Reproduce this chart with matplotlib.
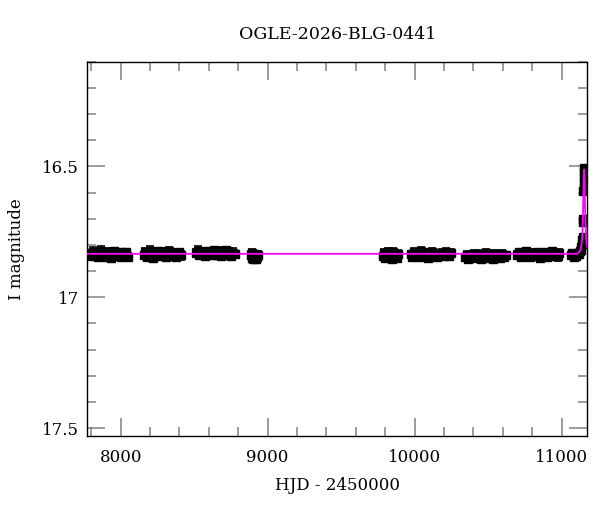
"""
OGLE light curve: OGLE-2026-BLG-0441
"""
import matplotlib
matplotlib.use('Agg')
import matplotlib.pyplot as plt
from matplotlib.ticker import MultipleLocator, FixedLocator, FuncFormatter

# observing seasons (HJD - 2450000, I mag, error)
t1 = [7786, 7797, 7809, 7820, 7832, 7843, 7855, 7866, 7878, 7889, 7901, 7912,
      7924, 7935, 7947, 7958, 7970, 7981, 7993, 8004, 8016, 8027, 8039, 8052]
m1 = [16.832, 16.844, 16.826, 16.839, 16.829, 16.848, 16.835, 16.823, 16.841, 16.830, 16.846, 16.827,
      16.838, 16.850, 16.831, 16.825, 16.843, 16.836, 16.828, 16.847, 16.833, 16.840, 16.826, 16.845]
e1 = [0.014, 0.012, 0.020, 0.011, 0.013, 0.015, 0.012, 0.018, 0.011, 0.014, 0.013, 0.016,
      0.012, 0.011, 0.019, 0.013, 0.012, 0.015, 0.014, 0.011, 0.013, 0.017, 0.012, 0.014]

t2 = [8156, 8167, 8178, 8189, 8200, 8211, 8222, 8233, 8244, 8255, 8266, 8277,
      8288, 8299, 8310, 8321, 8332, 8343, 8354, 8365, 8376, 8387, 8398, 8410]
m2 = [16.838, 16.827, 16.846, 16.833, 16.822, 16.841, 16.849, 16.830, 16.836, 16.825, 16.844, 16.832,
      16.839, 16.827, 16.847, 16.834, 16.823, 16.842, 16.829, 16.837, 16.848, 16.831, 16.826, 16.840]
e2 = [0.012, 0.015, 0.011, 0.013, 0.018, 0.012, 0.014, 0.011, 0.016, 0.013, 0.012, 0.019,
      0.011, 0.014, 0.012, 0.013, 0.017, 0.011, 0.015, 0.012, 0.014, 0.013, 0.011, 0.016]

t3 = [8512, 8524, 8536, 8548, 8560, 8572, 8584, 8596, 8608, 8620, 8632, 8644,
      8656, 8668, 8680, 8692, 8704, 8716, 8728, 8740, 8752, 8764, 8776]
m3 = [16.830, 16.822, 16.838, 16.826, 16.833, 16.843, 16.824, 16.835, 16.828, 16.840, 16.821, 16.832,
      16.837, 16.825, 16.844, 16.829, 16.834, 16.820, 16.839, 16.827, 16.842, 16.831, 16.836]
e3 = [0.013, 0.019, 0.011, 0.014, 0.012, 0.016, 0.011, 0.013, 0.015, 0.012, 0.014, 0.011,
      0.013, 0.017, 0.012, 0.011, 0.014, 0.013, 0.012, 0.015, 0.011, 0.018, 0.013]

t4 = [8884, 8890, 8896, 8902, 8908, 8914, 8920, 8926, 8931]
m4 = [16.838, 16.850, 16.832, 16.855, 16.842, 16.836, 16.852, 16.845, 16.840]
e4 = [0.014, 0.012, 0.016, 0.013, 0.015, 0.012, 0.014, 0.013, 0.015]

t5 = [9783, 9792, 9801, 9810, 9819, 9828, 9837, 9846, 9855, 9864, 9873, 9882, 9889]
m5 = [16.842, 16.830, 16.851, 16.837, 16.826, 16.848, 16.834, 16.855, 16.828, 16.845, 16.839, 16.850, 16.833]
e5 = [0.013, 0.015, 0.012, 0.014, 0.016, 0.012, 0.013, 0.011, 0.015, 0.013, 0.012, 0.014, 0.013]

t6 = [9972, 9984, 9996, 10008, 10020, 10032, 10044, 10056, 10068, 10080, 10092, 10104,
      10116, 10128, 10140, 10152, 10164, 10176, 10188, 10200, 10212, 10224, 10236, 10250]
m6 = [16.836, 16.845, 16.828, 16.840, 16.832, 16.848, 16.825, 16.838, 16.843, 16.830, 16.849, 16.834,
      16.827, 16.841, 16.836, 16.846, 16.829, 16.839, 16.833, 16.844, 16.826, 16.837, 16.842, 16.831]
e6 = [0.012, 0.011, 0.017, 0.013, 0.012, 0.014, 0.018, 0.011, 0.013, 0.015, 0.012, 0.011,
      0.016, 0.013, 0.012, 0.014, 0.011, 0.013, 0.019, 0.012, 0.014, 0.011, 0.013, 0.016]

t7 = [10342, 10354, 10366, 10378, 10390, 10402, 10414, 10426, 10438, 10450, 10462, 10474,
      10486, 10498, 10510, 10522, 10534, 10546, 10558, 10570, 10582, 10594, 10606, 10620]
m7 = [16.845, 16.838, 16.852, 16.840, 16.847, 16.834, 16.850, 16.843, 16.837, 16.855, 16.841, 16.846,
      16.832, 16.849, 16.844, 16.839, 16.853, 16.836, 16.848, 16.842, 16.851, 16.835, 16.846, 16.840]
e7 = [0.011, 0.013, 0.012, 0.016, 0.011, 0.014, 0.012, 0.011, 0.017, 0.012, 0.013, 0.011,
      0.015, 0.012, 0.011, 0.014, 0.012, 0.018, 0.011, 0.013, 0.012, 0.015, 0.011, 0.013]

t8 = [10697, 10709, 10721, 10733, 10745, 10757, 10769, 10781, 10793, 10805, 10817, 10829,
      10841, 10853, 10865, 10877, 10889, 10901, 10913, 10925, 10937, 10949, 10961, 10973, 10985]
m8 = [16.838, 16.827, 16.845, 16.833, 16.841, 16.824, 16.836, 16.848, 16.830, 16.839, 16.843, 16.826,
      16.835, 16.849, 16.831, 16.840, 16.828, 16.846, 16.834, 16.837, 16.825, 16.844, 16.832, 16.841, 16.829]
e8 = [0.016, 0.012, 0.013, 0.011, 0.018, 0.012, 0.014, 0.011, 0.013, 0.016, 0.012, 0.011,
      0.014, 0.012, 0.017, 0.011, 0.013, 0.012, 0.015, 0.011, 0.014, 0.012, 0.013, 0.019, 0.012]

# 2026 season with the event
t9 = [11063, 11072, 11081, 11090, 11099, 11108, 11116, 11123, 11129, 11134, 11138,
      11141, 11144, 11146, 11147, 11148, 11149, 11150, 11151, 11152, 11153]
m9 = [16.840, 16.832, 16.845, 16.836, 16.842, 16.830, 16.834, 16.825, 16.818, 16.808, 16.795,
      16.782, 16.770, 16.712, 16.700, 16.595, 16.582, 16.560, 16.540, 16.520, 16.505]
e9 = [0.013, 0.012, 0.014, 0.012, 0.013, 0.011, 0.013, 0.012, 0.011, 0.012, 0.011,
      0.012, 0.011, 0.010, 0.010, 0.010, 0.010, 0.010, 0.010, 0.011, 0.012]

# model curve
model_t = [7700, 11100, 11115, 11125, 11132, 11138, 11142, 11145, 11148, 11150,
           11152, 11155, 11158, 11162, 11166, 11170, 11180]
model_m = [16.834, 16.834, 16.830, 16.822, 16.808, 16.780, 16.740, 16.680, 16.590, 16.530,
           16.512, 16.550, 16.640, 16.720, 16.770, 16.800, 16.820]

seasons = [(t1, m1, e1), (t2, m2, e2), (t3, m3, e3), (t4, m4, e4), (t5, m5, e5),
           (t6, m6, e6), (t7, m7, e7), (t8, m8, e8), (t9, m9, e9)]

plt.rcParams['font.family'] = ['DejaVu Serif']
plt.rcParams['font.size'] = 12

fig = plt.figure(figsize=(6, 5.12), dpi=100)
ax = fig.add_axes([0.1455, 0.1484, 0.8333, 0.7311])

for t, m, e in seasons:
    ax.errorbar(t, m, yerr=e, fmt='s', color='black', ms=5.5, elinewidth=1.2,
                capsize=2.8, capthick=1.2, zorder=2)

ax.plot(model_t, model_m, color='#ff00ff', lw=1.3, zorder=3)

ax.set_xlim(7773, 11174)
ax.set_ylim(17.53, 16.1)

ax.xaxis.set_major_locator(MultipleLocator(1000))
ax.xaxis.set_minor_locator(MultipleLocator(200))
ax.yaxis.set_major_locator(FixedLocator([16.5, 17.0, 17.5]))
ax.yaxis.set_minor_locator(MultipleLocator(0.1))
ax.yaxis.set_major_formatter(FuncFormatter(lambda v, p: '%g' % v))

ax.tick_params(which='both', direction='in', top=True, right=True,
               color='#808080', width=1.1)
ax.tick_params(which='major', length=13)
ax.tick_params(which='minor', length=6.5)
ax.tick_params(axis='x', which='major', pad=9)
ax.tick_params(axis='y', which='major', pad=6)
for s in ax.spines.values():
    s.set_linewidth(1.0)

ax.set_title('OGLE-2026-BLG-0441', fontsize=12.5, pad=16)
ax.set_xlabel('HJD - 2450000', labelpad=8)
ax.set_ylabel('I magnitude', labelpad=12)

fig.savefig('out.png', dpi=100)
